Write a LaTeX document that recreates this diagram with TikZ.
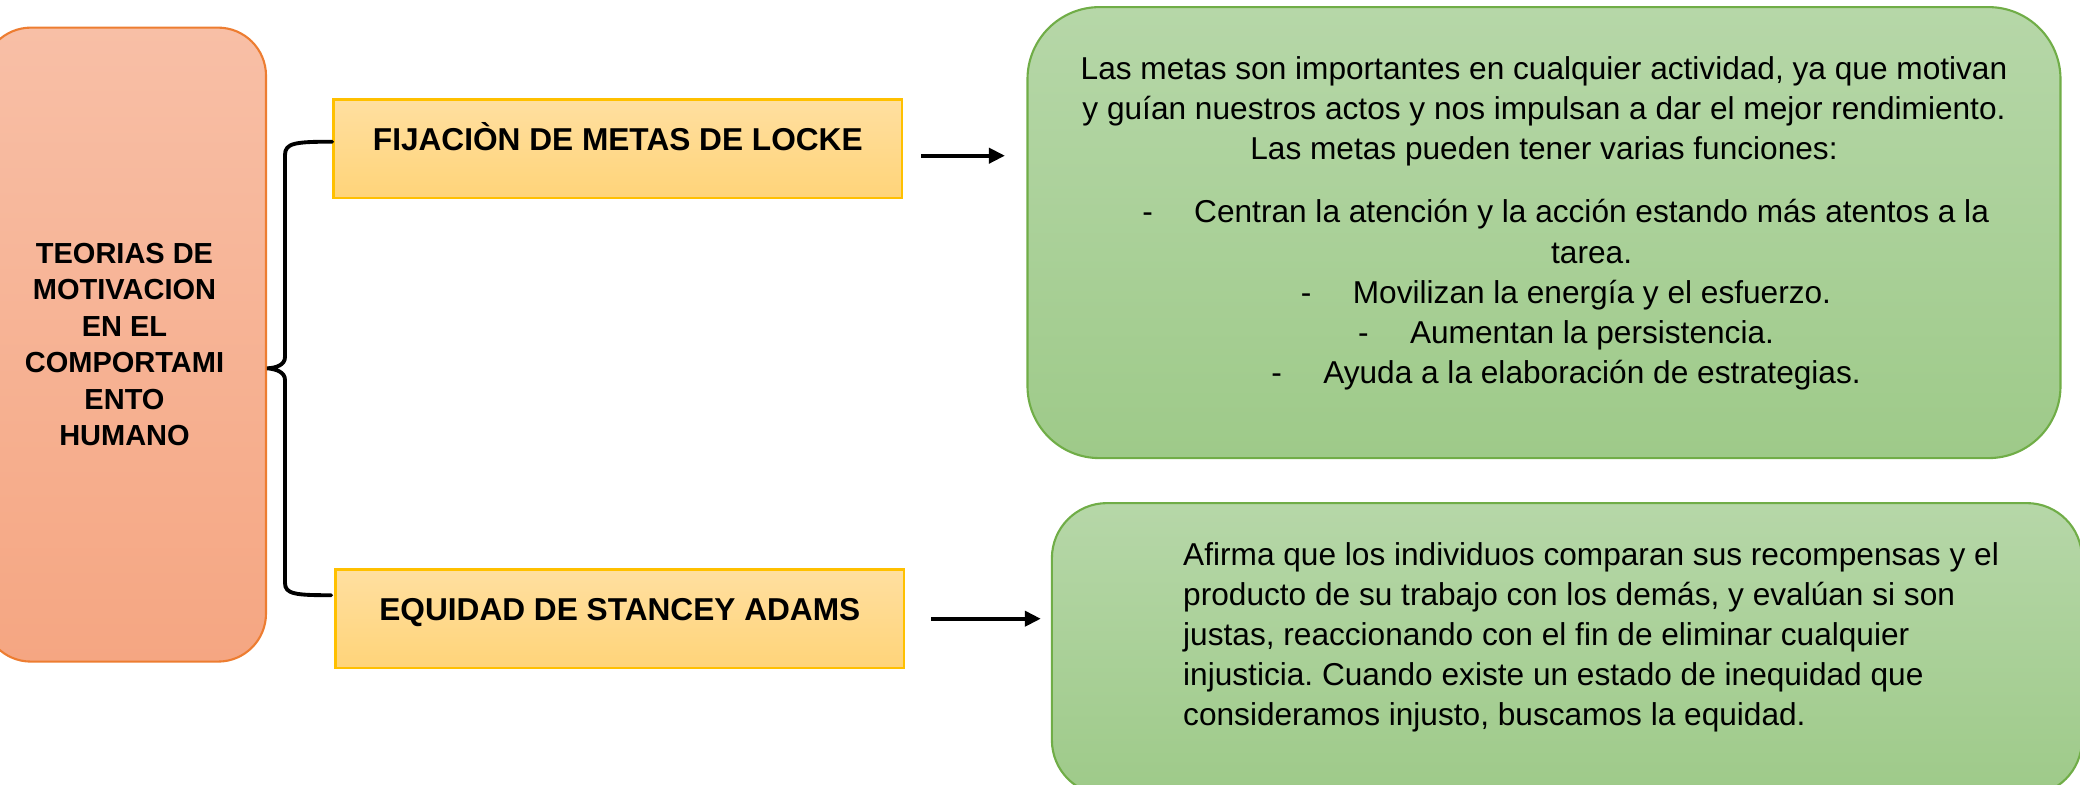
\documentclass[tikz,border=0pt]{standalone}
\usepackage{fontspec}
\setmainfont{Liberation Sans}
\frenchspacing
\usepackage{tikz}
\usetikzlibrary{arrows.meta}
\usetikzlibrary{positioning,calc}
\usepackage{xcolor}
\definecolor{theorytop}{RGB}{248,191,166}
\definecolor{theorybot}{RGB}{245,166,130}
\definecolor{theoryline}{RGB}{237,125,49}
\definecolor{topictop}{RGB}{255,223,160}
\definecolor{topicbot}{RGB}{255,212,121}
\definecolor{topicline}{RGB}{255,192,0}
\definecolor{notetop}{RGB}{182,215,168}
\definecolor{notebot}{RGB}{158,202,137}
\definecolor{noteline}{RGB}{112,173,71}
\tikzset{
    theory/.style={
        draw=theoryline,
        line width=0.6pt,
        rounded corners=0.48cm,
        top color=theorytop,
        bottom color=theorybot,
        minimum width=2.83cm,
        minimum height=6.34cm,
        align=center,
        inner sep=0pt,
        font=\bfseries\fontsize{8.25}{10.4}\selectfont
    },
    topic/.style={
        draw=topicline,
        line width=0.75pt,
        top color=topictop,
        bottom color=topicbot,
        minimum width=5.685cm,
        minimum height=0.985cm,
        inner sep=0pt,
        text height=6.4pt,
        text depth=5.5pt,
        font=\bfseries\fontsize{9}{11}\selectfont
    },
    note/.style={
        draw=noteline,
        line width=0.6pt,
        top color=notetop,
        bottom color=notebot,
        inner sep=0pt
    },
    txt/.style={
        inner sep=0pt,
        text height=6.4pt,
        text depth=0pt,
        font=\fontsize{9}{11.38}\selectfont
    },
    para/.style={
        inner sep=0pt,
        font=\fontsize{9}{11.38}\selectfont
    },
    flow/.style={
        draw,
        line width=1.1pt,
        -{Triangle[length=1.6mm, width=1.5mm]}
    },
    bracket/.style={
        draw,
        line width=1.1pt,
        line cap=round
    }
}

\begin{document}
\begin{tikzpicture}
  \useasboundingbox (0,0) rectangle (20.8,7.84);

  % Main theme
  \node[theory] (teoria) at (1.245,4.394) {TEORIAS DE\\MOTIVACION\\EN EL\\COMPORTAMI\\ENTO\\HUMANO};

  % Theories
  \node[topic] (locke) at (6.178,6.353) {FIJACIÒN DE METAS DE LOCKE};
  \node[topic] (adams) at (6.198,1.653) {EQUIDAD DE STANCEY ADAMS};

  % Description boxes
  \node[note, minimum width=10.33cm, minimum height=4.51cm, rounded corners=0.72cm] (metas) at (15.44,5.514) {};
  \node[note, minimum width=10.30cm, minimum height=2.92cm, rounded corners=0.55cm] (equidad) at (15.669,1.349) {};

  % Text of the first box
  \node[para, align=center] (intro) at (15.44,6.723) {Las metas son importantes en cualquier actividad, ya que motivan\\y guían nuestros actos y nos impulsan a dar el mejor rendimiento.\\Las metas pueden tener varias funciones:};
  \node[txt] (f1) at (15.916,5.723) {Centran la atención y la acción estando más atentos a la};
  \node[txt] (f1b) at (15.916,5.317) {tarea.};
  \node[txt] (f2) at (15.92,4.917) {Movilizan la energía y el esfuerzo.};
  \node[txt] (f3) at (15.92,4.517) {Aumentan la persistencia.};
  \node[txt] (f4) at (15.92,4.117) {Ayuda a la elaboración de estrategias.};
  \foreach \f in {f1,f2,f3,f4}
    \node[txt, left=0.4cm of \f.west] (d\f) {-};

  % Text of the second box
  \node[para, align=left, anchor=west] (afirma) at (11.825,1.47) {Afirma que los individuos comparan sus recompensas y el\\producto de su trabajo con los demás, y evalúan si son\\justas, reaccionando con el fin de eliminar cualquier\\injusticia. Cuando existe un estado de inequidad que\\consideramos injusto, buscamos la equidad.};

  % Arrows
  \coordinate (a1) at ([yshift=-0.07cm]locke.east);
  \draw[flow, shorten <=0.18cm, shorten >=0.215cm] (a1) -- (a1 -| metas.west);
  \draw[flow, shorten <=0.26cm, shorten >=0.10cm] (adams.east) -- (adams.east -| equidad.west);

  % Brace
  \coordinate (btop) at ([yshift=0.07cm]locke.west);
  \coordinate (bbot) at ([xshift=-0.03cm,yshift=0.235cm]adams.west);
  \coordinate (btip) at ([yshift=-0.237cm]teoria.east);
  \draw[bracket] (btop) .. controls (2.95,6.423) and (2.85,6.41) .. (2.85,6.29)
    -- (2.85,4.27) .. controls (2.85,4.19) and (2.76,4.16) .. (btip)
    .. controls (2.76,4.15) and (2.85,4.12) .. (2.85,4.04)
    -- (2.85,2.01) .. controls (2.85,1.90) and (2.95,1.887) .. (bbot);
\end{tikzpicture}
\end{document}
